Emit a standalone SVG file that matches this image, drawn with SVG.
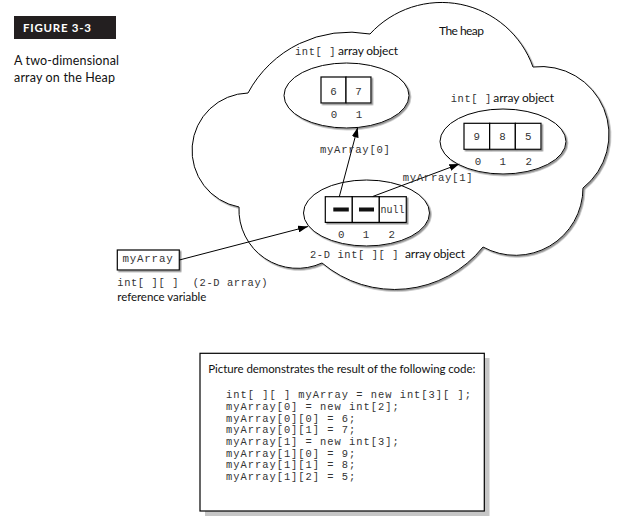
<svg xmlns="http://www.w3.org/2000/svg" width="628" height="532" viewBox="0 0 628 532">
<defs>
<style>
.mono{font-family:"Liberation Mono","Courier New",monospace;fill:#333;white-space:pre}
.lbl{font-size:10.4px;letter-spacing:0.62px}
.code{font-size:10.4px;letter-spacing:1px}
.num{font-size:10.8px}
.sans{font-family:Lato,"Liberation Sans",sans-serif;fill:#111}
.shape{fill:#fff;stroke:#000;stroke-width:1}
.cell{fill:#fff;stroke:#000;stroke-width:1.2}
.conn{stroke:#000;stroke-width:1;fill:none;marker-end:url(#arr)}
</style>
<filter id="sh" x="-10%" y="-10%" width="125%" height="125%">
<feDropShadow dx="1.5" dy="1.5" stdDeviation="0.6" flood-color="#7a7a7a" flood-opacity="0.8"/>
</filter>
<marker id="arr" viewBox="0 0 10 7" refX="10" refY="3.5" markerWidth="10" markerHeight="7" markerUnits="userSpaceOnUse" orient="auto">
<path d="M0,0 L10,3.5 L0,7 z" fill="#000"/>
</marker>
</defs>
<rect width="628" height="532" fill="#fff"/>

<g id="header">
<rect x="14" y="16" width="102" height="23" fill="#231f20"/>
<text x="23" y="31.5" class="sans" style="fill:#fff;font-weight:bold;font-size:11.5px" textLength="68">FIGURE 3-3</text>
<text x="14" y="65" class="sans" style="font-size:12.5px" textLength="105">A two-dimensional</text>
<text x="14" y="82" class="sans" style="font-size:12.5px" textLength="101">array on the Heap</text>
</g>

<g id="heap">
<path class="shape" filter="url(#sh)" d="M248,93 A115,115 0 0 1 370,34 A97,97 0 0 1 533,67 A68,68 0 0 1 583,188 A67.5,67.5 0 0 1 483,247 A113,113 0 0 1 322,263 A58.6,58.6 0 0 1 239,207 A57.5,57.5 0 0 1 248,93 Z"/>
<text x="439" y="35" class="sans" style="font-size:12px" textLength="45">The heap</text>
</g>

<g id="array0">
<ellipse class="shape" filter="url(#sh)" cx="346.5" cy="95.5" rx="62.5" ry="32.5"/>
<g filter="url(#sh)">
<rect class="cell" x="321" y="77" width="25" height="26"/>
<rect class="cell" x="346" y="77" width="25" height="26"/>
</g>
<text class="mono num" x="333.5" y="94.5" text-anchor="middle">6</text>
<text class="mono num" x="358.5" y="94.5" text-anchor="middle">7</text>
<text class="mono num" x="334" y="118" text-anchor="middle">0</text>
<text class="mono num" x="359" y="118" text-anchor="middle">1</text>
<text class="mono lbl" x="295" y="55">int[ ]</text>
<text class="sans" style="font-size:12px" x="338" y="55" textLength="60">array object</text>
</g>

<g id="array1">
<ellipse class="shape" filter="url(#sh)" cx="503" cy="141.5" rx="63" ry="32.5"/>
<g filter="url(#sh)">
<rect class="cell" x="464" y="123.3" width="25.67" height="26"/>
<rect class="cell" x="489.67" y="123.3" width="25.67" height="26"/>
<rect class="cell" x="515.33" y="123.3" width="25.67" height="26"/>
</g>
<text class="mono num" x="476.8" y="140" text-anchor="middle">9</text>
<text class="mono num" x="502.5" y="140" text-anchor="middle">8</text>
<text class="mono num" x="528.2" y="140" text-anchor="middle">5</text>
<text class="mono num" x="478" y="165" text-anchor="middle">0</text>
<text class="mono num" x="502.7" y="165" text-anchor="middle">1</text>
<text class="mono num" x="528.7" y="165" text-anchor="middle">2</text>
<text class="mono lbl" x="450.7" y="101.5">int[ ]</text>
<text class="sans" style="font-size:12px" x="493.3" y="101.5" textLength="60.7">array object</text>
</g>

<g id="array2d">
<ellipse class="shape" filter="url(#sh)" cx="366.5" cy="213" rx="63" ry="33"/>
<g filter="url(#sh)">
<rect class="cell" x="325.3" y="196.7" width="27" height="25.7"/>
<rect class="cell" x="352.3" y="196.7" width="27" height="25.7"/>
<rect class="cell" x="379.3" y="196.7" width="27" height="25.7"/>
</g>
<rect x="333.3" y="207.5" width="15.5" height="4" fill="#111"/>
<rect x="359" y="207.5" width="15" height="4" fill="#111"/>
<text class="mono" style="font-size:10px" x="380.5" y="213" textLength="24">null</text>
<text class="mono num" x="341.3" y="238" text-anchor="middle">0</text>
<text class="mono num" x="366" y="238" text-anchor="middle">1</text>
<text class="mono num" x="391.7" y="238" text-anchor="middle">2</text>
<text class="mono lbl" x="310" y="258">2-D int[ ][ ]</text>
<text class="sans" style="font-size:12px" x="405" y="258" textLength="60">array object</text>
</g>

<g id="myArray">
<rect class="cell" filter="url(#sh)" x="117.3" y="250" width="62" height="20"/>
<text class="mono" style="font-size:10.8px;letter-spacing:0.8px" x="122.5" y="262">myArray</text>
<text class="mono lbl" x="117.3" y="286">int[ ][ ]  (2-D array)</text>
<text class="sans" style="font-size:11.5px" x="117.3" y="301" textLength="89">reference variable</text>
</g>

<g id="connectors">
<line class="conn" x1="179.3" y1="260" x2="308" y2="226.5"/>
<line class="conn" x1="339.3" y1="196.7" x2="357.7" y2="127.5"/>
<line class="conn" x1="372.7" y1="196.5" x2="459.3" y2="164"/>
<text class="mono" style="font-size:10.6px;letter-spacing:0.7px" x="320" y="153">myArray[0]</text>
<text class="mono" style="font-size:10.6px;letter-spacing:0.7px" x="402.7" y="181.3">myArray[1]</text>
</g>

<g id="codebox">
<rect x="205" y="358" width="284.5" height="158" fill="#c6c6c6"/>
<rect x="200" y="353.3" width="284.3" height="157.7" fill="#fff" stroke="#000" stroke-width="1.2"/>
<text class="sans" style="font-size:11.5px" x="208.3" y="373" textLength="267">Picture demonstrates the result of the following code:</text>
<text class="mono code" x="226" y="398.3">int[ ][ ] myArray = new int[3][ ];</text>
<text class="mono code" x="226" y="410">myArray[0] = new int[2];</text>
<text class="mono code" x="226" y="421.7">myArray[0][0] = 6;</text>
<text class="mono code" x="226" y="433.3">myArray[0][1] = 7;</text>
<text class="mono code" x="226" y="445">myArray[1] = new int[3];</text>
<text class="mono code" x="226" y="456.7">myArray[1][0] = 9;</text>
<text class="mono code" x="226" y="468.3">myArray[1][1] = 8;</text>
<text class="mono code" x="226" y="480">myArray[1][2] = 5;</text>
</g>
</svg>
